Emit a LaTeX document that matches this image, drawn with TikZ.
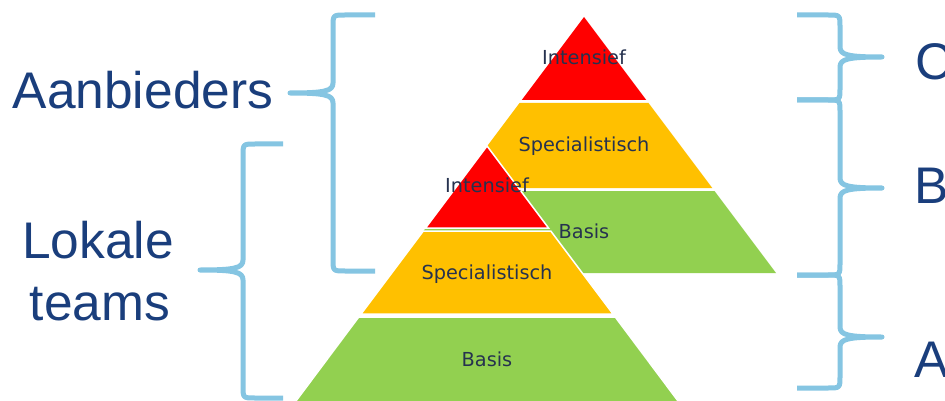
\documentclass[tikz,border=0pt]{standalone}
\usepackage{fontspec}
\setmainfont{Liberation Sans}
\newfontfamily\dvfont{DejaVu Sans}
\definecolor{bandred}{HTML}{FF0000}
\definecolor{bandorange}{HTML}{FFC000}
\definecolor{bandgreen}{HTML}{92D050}
\definecolor{labelnavy}{HTML}{26324F}
\definecolor{bigblue}{HTML}{1A3E7C}
\definecolor{bracecol}{HTML}{85C5E2}
\tikzset{
  bracestyle/.style={draw=bracecol, line width=5pt, line join=round},
  bandlabel/.style={anchor=base, inner sep=0pt, text=labelnavy, font=\dvfont\fontsize{19.3}{22}\selectfont},
  biglabel/.style={inner sep=0pt, text=bigblue, font=\fontsize{51.5}{62}\selectfont},
  frontband/.style={draw=white, line width=1.5pt},
}
\newcommand\mybrace[7]{%
  \draw[bracestyle] (#1,#4) -- ({#2+(#7)*12},#4) .. controls (#2,#4) .. (#2,#4+12)
    -- (#2,#5-10) .. controls (#2,#5-2) and ({#2-(#7)*8},#5) .. (#3,#5)
    .. controls ({#2-(#7)*8},#5) and (#2,#5+2) .. (#2,#5+10)
    -- (#2,#6-12) .. controls (#2,#6) .. ({#2+(#7)*12},#6) -- (#1,#6);}
\begin{document}
\begin{tikzpicture}[x=1pt,y=-1pt]
\useasboundingbox (0,0) rectangle (945,401);
\clip (0,0) rectangle (945,401);
\fill[white] (0,0) rectangle (945,401);
% back pyramid (apex 584,17; slope 0.75)
\fill[bandred] (584,17) -- (521.75,100) -- (646.25,100) -- cycle;
\fill[bandorange] (519.5,103) -- (648.5,103) -- (712.25,188) -- (455.75,188) -- cycle;
\fill[bandgreen] (453.5,191) -- (714.5,191) -- (776,273) -- (392,273) -- cycle;
% front pyramid (apex 487,146)
\filldraw[bandred,frontband] (487,146) -- (425.5,228) -- (548.5,228) -- cycle;
\filldraw[bandorange,frontband] (423.25,231) -- (550.75,231) -- (613,314) -- (361,314) -- cycle;
\filldraw[bandgreen,frontband] (358.75,317) -- (615.25,317) -- (681,405) -- (293,405) -- cycle;
% band labels
\node[bandlabel] (bi) at (584,65) {Intensief};
\node[bandlabel] (bs) at (584,152) {Specialistisch};
\node[bandlabel] (bb) at (584,238) {Basis};
\node[bandlabel] (fi) at (487,193) {Intensief};
\node[bandlabel] (fs) at (487,279) {Specialistisch};
\node[bandlabel] (fb) at (487,366) {Basis};
% braces
\mybrace{375}{333}{290}{15}{93}{271}{1}
\mybrace{283}{243}{200}{144}{270}{398}{1}
\mybrace{797}{840}{882}{15}{57}{100}{-1}
\mybrace{797}{840}{882}{100}{188}{275}{-1}
\mybrace{797}{840}{882}{275}{337}{388}{-1}
% big labels
\node[biglabel, anchor=base] (aan) at (143,109) {Aanbieders};
\node[biglabel, anchor=base] (lok) at (98,258) {Lokale};
\node[biglabel, anchor=base] (tea) at (100,320) {teams};
\node[biglabel, anchor=base west] (lc) at (915,80) {C};
\node[biglabel, anchor=base west] (lb) at (914,203) {B};
\node[biglabel, anchor=base west] (la) at (914,377) {A};
\end{tikzpicture}
\end{document}
